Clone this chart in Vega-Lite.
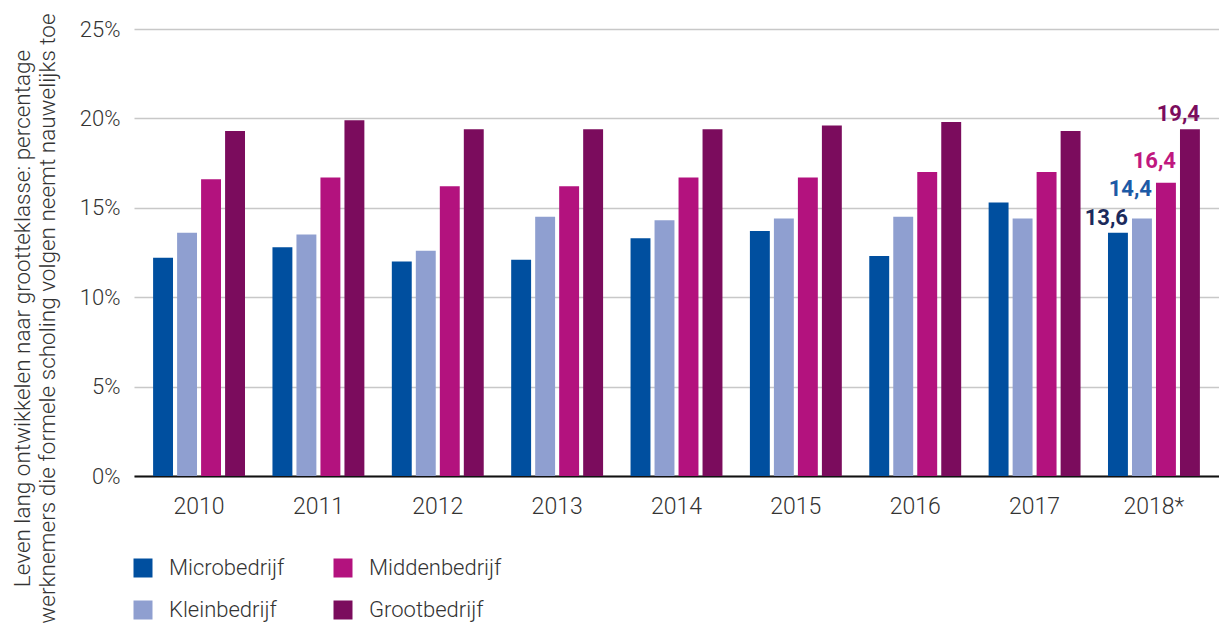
{
  "$schema": "https://vega.github.io/schema/vega-lite/v6.json",
  "width": 1085,
  "height": 447,
  "autosize": {"type": "none"},
  "padding": {"left": 134, "top": 29, "right": 0, "bottom": 147},
  "background": "white",
  "config": {
    "font": "Roboto",
    "view": {"stroke": null},
    "locale": {"number": {"decimal": ",", "thousands": ".", "grouping": [3], "currency": ["€", ""]}}
  },
  "data": {
    "values": [
      {"year": "2010", "size": "Microbedrijf", "value": 12.2},
      {"year": "2010", "size": "Kleinbedrijf", "value": 13.6},
      {"year": "2010", "size": "Middenbedrijf", "value": 16.6},
      {"year": "2010", "size": "Grootbedrijf", "value": 19.3},
      {"year": "2011", "size": "Microbedrijf", "value": 12.8},
      {"year": "2011", "size": "Kleinbedrijf", "value": 13.5},
      {"year": "2011", "size": "Middenbedrijf", "value": 16.7},
      {"year": "2011", "size": "Grootbedrijf", "value": 19.9},
      {"year": "2012", "size": "Microbedrijf", "value": 12.0},
      {"year": "2012", "size": "Kleinbedrijf", "value": 12.6},
      {"year": "2012", "size": "Middenbedrijf", "value": 16.2},
      {"year": "2012", "size": "Grootbedrijf", "value": 19.4},
      {"year": "2013", "size": "Microbedrijf", "value": 12.1},
      {"year": "2013", "size": "Kleinbedrijf", "value": 14.5},
      {"year": "2013", "size": "Middenbedrijf", "value": 16.2},
      {"year": "2013", "size": "Grootbedrijf", "value": 19.4},
      {"year": "2014", "size": "Microbedrijf", "value": 13.3},
      {"year": "2014", "size": "Kleinbedrijf", "value": 14.3},
      {"year": "2014", "size": "Middenbedrijf", "value": 16.7},
      {"year": "2014", "size": "Grootbedrijf", "value": 19.4},
      {"year": "2015", "size": "Microbedrijf", "value": 13.7},
      {"year": "2015", "size": "Kleinbedrijf", "value": 14.4},
      {"year": "2015", "size": "Middenbedrijf", "value": 16.7},
      {"year": "2015", "size": "Grootbedrijf", "value": 19.6},
      {"year": "2016", "size": "Microbedrijf", "value": 12.3},
      {"year": "2016", "size": "Kleinbedrijf", "value": 14.5},
      {"year": "2016", "size": "Middenbedrijf", "value": 17.0},
      {"year": "2016", "size": "Grootbedrijf", "value": 19.8},
      {"year": "2017", "size": "Microbedrijf", "value": 15.3},
      {"year": "2017", "size": "Kleinbedrijf", "value": 14.4},
      {"year": "2017", "size": "Middenbedrijf", "value": 17.0},
      {"year": "2017", "size": "Grootbedrijf", "value": 19.3},
      {"year": "2018*", "size": "Microbedrijf", "value": 13.6},
      {"year": "2018*", "size": "Kleinbedrijf", "value": 14.4},
      {"year": "2018*", "size": "Middenbedrijf", "value": 16.4},
      {"year": "2018*", "size": "Grootbedrijf", "value": 19.4}
    ]
  },
  "encoding": {
    "x": {
      "field": "year", "type": "nominal", "sort": null,
      "scale": {"paddingInner": 0.23, "paddingOuter": 0.16},
      "axis": {
        "title": null, "labelAngle": 0, "labelFontSize": 23, "labelColor": "#333333",
        "labelFontWeight": 300, "labelPadding": 19, "ticks": false,
        "domainColor": "#111111", "domainWidth": 2
      }
    },
    "xOffset": {
      "field": "size", "type": "nominal",
      "sort": ["Microbedrijf", "Kleinbedrijf", "Middenbedrijf", "Grootbedrijf"],
      "scale": {"paddingInner": 0.17, "paddingOuter": 0}
    },
    "y": {
      "field": "value", "type": "quantitative",
      "scale": {"domain": [0, 25], "nice": false},
      "axis": {
        "values": [0, 5, 10, 15, 20, 25],
        "labelExpr": "datum.value + '%'",
        "labelFontSize": 22, "labelColor": "#333333", "labelFontWeight": 300,
        "labelPadding": 14, "ticks": false, "domain": false,
        "gridColor": "#c8c8c8", "gridWidth": 1.5,
        "title": ["Leven lang ontwikkelen naar grootteklasse: percentage", "werknemers die formele scholing volgen neemt nauwelijks toe"],
        "titleFontSize": 22.5, "titleFontWeight": 300, "titleColor": "#333333",
        "titleAngle": -90, "titleBaseline": "top", "titleAlign": "center",
        "titleX": -123, "titleY": 289, "titleLineHeight": 25
      }
    }
  },
  "layer": [
    {
      "mark": {"type": "bar"},
      "encoding": {
        "color": {
          "field": "size", "type": "nominal",
          "scale": {
            "domain": ["Microbedrijf", "Kleinbedrijf", "Middenbedrijf", "Grootbedrijf"],
            "range": ["#004f9f", "#8f9fd0", "#b3127e", "#7b0c5d"]
          },
          "legend": {
            "orient": "none", "legendX": -2, "legendY": 528,
            "title": null, "columns": 2, "symbolType": "square", "symbolSize": 361,
            "symbolStrokeWidth": 0, "labelFontSize": 22, "labelFontWeight": 300,
            "labelColor": "#333333", "labelOffset": 15, "columnPadding": 47, "rowPadding": 20
          }
        }
      }
    },
    {
      "transform": [{"filter": "datum.year == '2018*' && datum.size == 'Microbedrijf'"}],
      "mark": {"type": "text", "align": "right", "baseline": "alphabetic", "dx": 10, "dy": -8, "fontSize": 22, "fontWeight": "bold", "color": "#1b2a5c"},
      "encoding": {"text": {"field": "value", "type": "quantitative", "format": ".1f"}}
    },
    {
      "transform": [{"filter": "datum.year == '2018*' && datum.size == 'Kleinbedrijf'"}],
      "mark": {"type": "text", "align": "right", "baseline": "alphabetic", "dx": 10, "dy": -23, "fontSize": 22, "fontWeight": "bold", "color": "#1d5aa6"},
      "encoding": {"text": {"field": "value", "type": "quantitative", "format": ".1f"}}
    },
    {
      "transform": [{"filter": "datum.year == '2018*' && datum.size == 'Middenbedrijf'"}],
      "mark": {"type": "text", "align": "right", "baseline": "alphabetic", "dx": 10, "dy": -15, "fontSize": 22, "fontWeight": "bold", "color": "#c0187f"},
      "encoding": {"text": {"field": "value", "type": "quantitative", "format": ".1f"}}
    },
    {
      "transform": [{"filter": "datum.year == '2018*' && datum.size == 'Grootbedrijf'"}],
      "mark": {"type": "text", "align": "right", "baseline": "alphabetic", "dx": 10, "dy": -8, "fontSize": 22, "fontWeight": "bold", "color": "#7b0c5d"},
      "encoding": {"text": {"field": "value", "type": "quantitative", "format": ".1f"}}
    }
  ]
}
